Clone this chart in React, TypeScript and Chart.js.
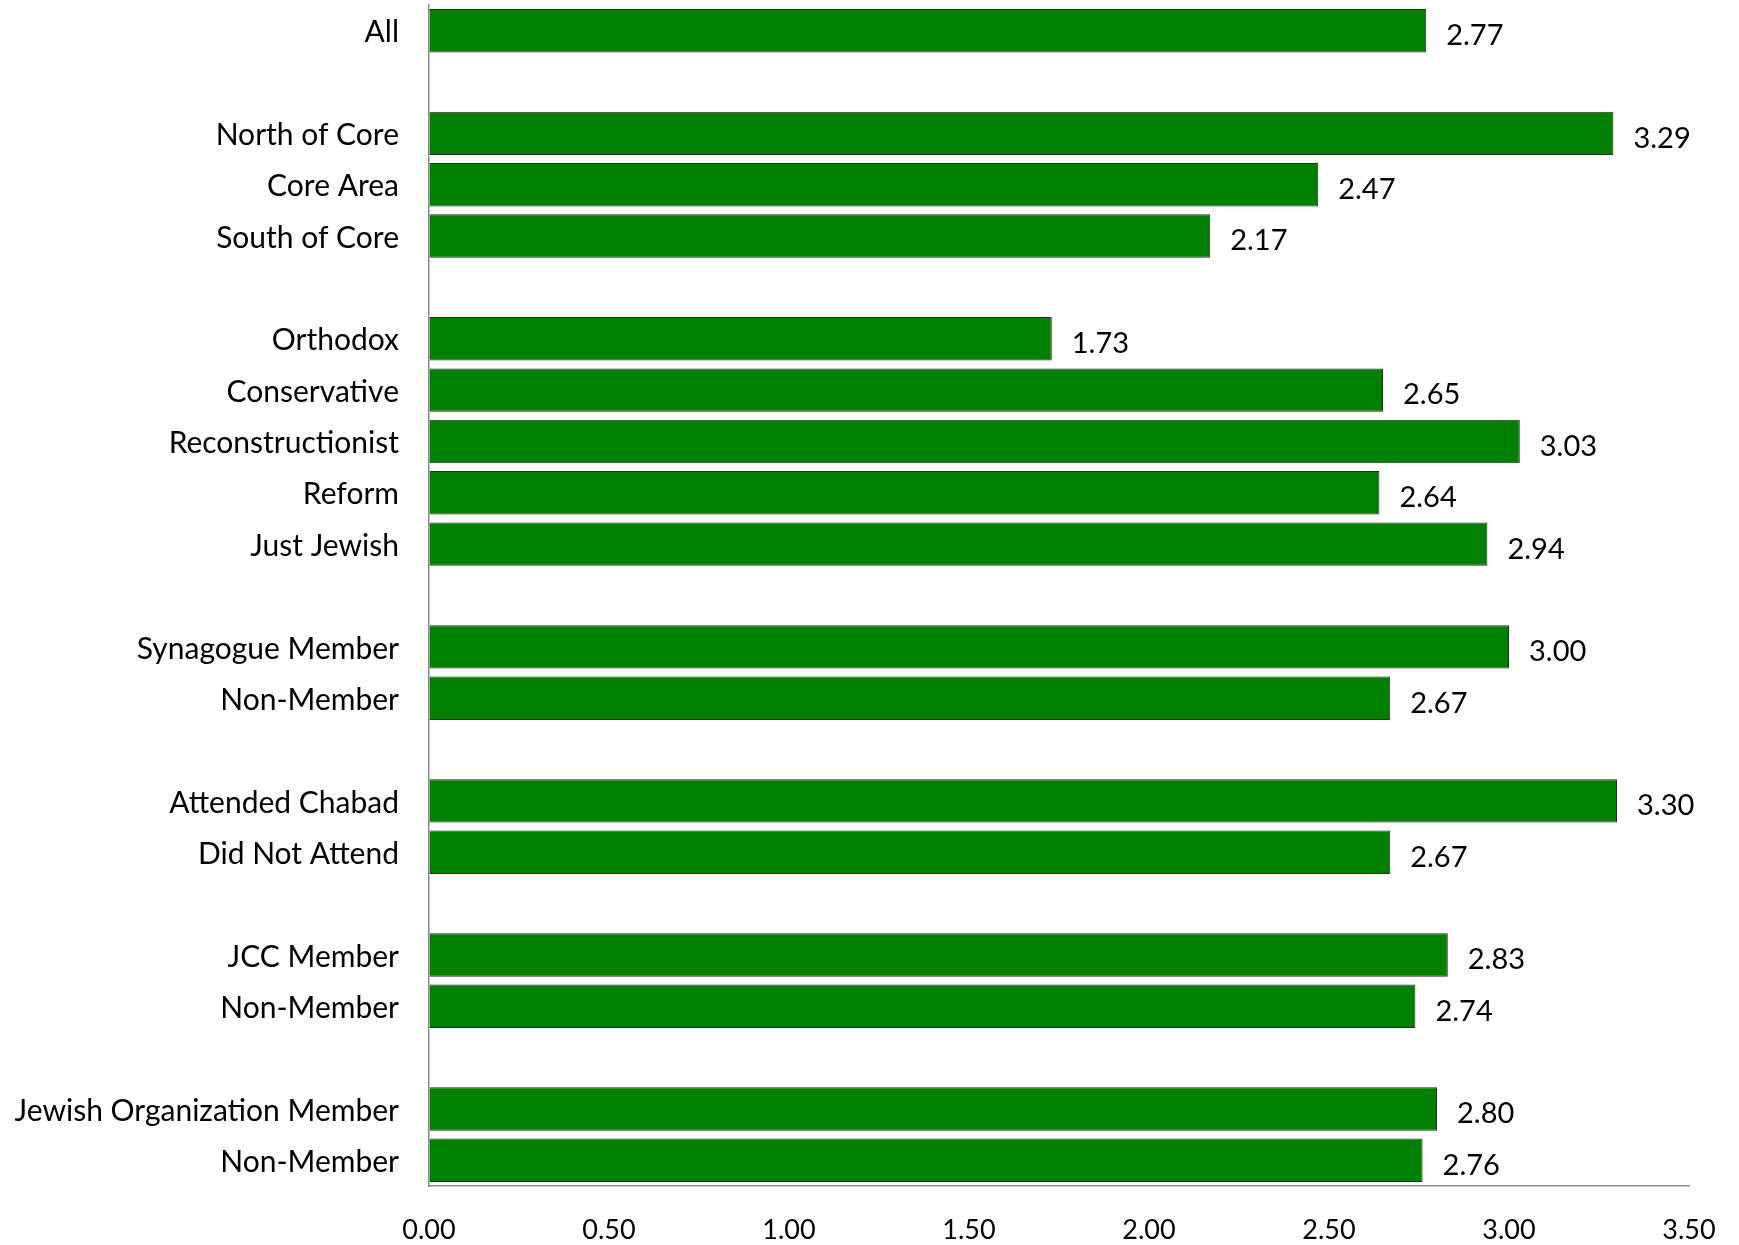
import React, { useEffect, useRef } from "react";
import { Chart, registerables } from "chart.js";

Chart.register(...registerables);

const categories: string[] = [
  "All",
  "",
  "North of Core",
  "Core Area",
  "South of Core",
  "",
  "Orthodox",
  "Conservative",
  "Reconstructionist",
  "Reform",
  "Just Jewish",
  "",
  "Synagogue Member",
  "Non-Member",
  "",
  "Attended Chabad",
  "Did Not Attend",
  "",
  "JCC Member",
  "Non-Member",
  "",
  "Jewish Organization Member",
  "Non-Member",
];

const values: (number | null)[] = [
  2.77,
  null,
  3.29,
  2.47,
  2.17,
  null,
  1.73,
  2.65,
  3.03,
  2.64,
  2.94,
  null,
  3.0,
  2.67,
  null,
  3.3,
  2.67,
  null,
  2.83,
  2.74,
  null,
  2.8,
  2.76,
];

const xMin = 0;
const xMax = 3.5;
const xStep = 0.5;

const FONT = "Lato, 'Open Sans', sans-serif";

const valueLabels = {
  id: "valueLabels",
  afterDatasetsDraw(chart: any) {
    const ctx = chart.ctx;
    const meta = chart.getDatasetMeta(0);
    ctx.save();
    ctx.font = `29px ${FONT}`;
    ctx.fillStyle = "#000";
    ctx.textAlign = "left";
    ctx.textBaseline = "middle";
    meta.data.forEach((bar: any, i: number) => {
      const v = values[i];
      if (v === null || v === undefined) return;
      ctx.fillText(v.toFixed(2), bar.x + 20, bar.y + 5);
    });
    ctx.restore();
  },
};

export default function App() {
  const canvasRef = useRef<HTMLCanvasElement | null>(null);

  useEffect(() => {
    if (!canvasRef.current) return;
    const chart = new Chart(canvasRef.current, {
      type: "bar",
      data: {
        labels: categories,
        datasets: [
          {
            data: values as any,
            backgroundColor: "#008000",
            borderColor: "#2b2b2b",
            borderWidth: 1,
            categoryPercentage: 1,
            barPercentage: 0.846,
          },
        ],
      },
      options: {
        indexAxis: "y",
        animation: false,
        responsive: false,
        maintainAspectRatio: false,
        layout: { padding: { left: 0, right: 50, top: 5, bottom: 0 } },
        plugins: {
          legend: { display: false },
          tooltip: { enabled: false },
        },
        scales: {
          x: {
            min: xMin,
            max: xMax,
            grid: { drawOnChartArea: false, drawTicks: false },
            border: { display: true, color: "#8a8a8a", width: 1.5 },
            ticks: {
              stepSize: xStep,
              padding: 28,
              color: "#000",
              font: { family: FONT, size: 27 },
              callback: (v: any) => Number(v).toFixed(2),
            },
            afterFit: (scale: any) => {
              scale.height = 59;
              scale.paddingLeft = 0;
              scale.paddingRight = 0;
            },
          },
          y: {
            grid: { drawOnChartArea: false, drawTicks: false },
            border: { display: true, color: "#8a8a8a", width: 1.5 },
            ticks: {
              autoSkip: false,
              padding: 30,
              labelOffset: 2,
              color: "#000",
              font: { family: FONT, size: 30 },
            },
            afterFit: (scale: any) => {
              scale.width = 429;
              scale.paddingTop = 0;
              scale.paddingBottom = 0;
            },
          },
        },
      },
      plugins: [valueLabels],
    });
    return () => chart.destroy();
  }, []);

  return (
    <div style={{ position: "absolute", left: 0, top: 0, width: 1739, height: 1245, background: "#fff" }}>
      <canvas ref={canvasRef} width={1739} height={1245} style={{ width: 1739, height: 1245, display: "block" }} />
    </div>
  );
}
